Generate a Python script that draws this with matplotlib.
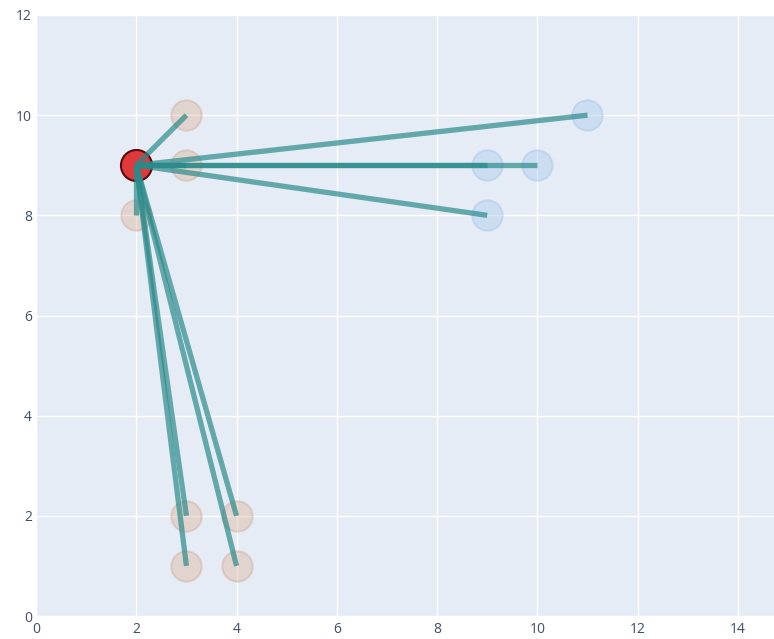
import matplotlib
matplotlib.use("Agg")
import matplotlib.pyplot as plt

# Data
center = (2, 9)
near_x = [3, 3, 2, 3, 4, 3, 4]
near_y = [10, 9, 8, 2, 2, 1, 1]
far_x = [9, 10, 11, 9]
far_y = [9, 9, 10, 8]
target_x = [3, 3, 2, 9, 10, 11, 9, 3, 4, 3, 4]
target_y = [10, 9, 8, 9, 9, 10, 8, 2, 2, 1, 1]
xticks = [0, 2, 4, 6, 8, 10, 12, 14]
yticks = [0, 2, 4, 6, 8, 10, 12]

plt.rcParams['font.family'] = ['Open Sans', 'DejaVu Sans']
fig = plt.figure(figsize=(7.74, 6.39), dpi=100)
ax = fig.add_axes([36/774, 23/639, 1 - 36/774, (616-15)/639])
ax.set_facecolor('#E5ECF6')

ax.scatter(near_x, near_y, s=480, color=(0.87, 0.72, 0.63, 0.45),
           edgecolor=(0.80, 0.62, 0.52, 0.35), linewidth=1.5, zorder=2)
ax.scatter(far_x, far_y, s=480, color=(0.70, 0.82, 0.93, 0.5),
           edgecolor=(0.62, 0.76, 0.90, 0.4), linewidth=1.5, zorder=2)
ax.scatter([center[0]], [center[1]], s=500, color='#E0383B',
           edgecolor='#5a0a0a', linewidth=1.5, zorder=3)
for tx, ty in zip(target_x, target_y):
    ax.plot([center[0], tx], [center[1], ty], color='#2A8A8A', alpha=0.7,
            linewidth=3.8, solid_capstyle='butt', zorder=4)

ax.set_xlim(0, 14.72)
ax.set_ylim(0, 12)
ax.set_xticks(xticks)
ax.set_yticks(yticks)
ax.grid(True, color='white', linewidth=1.0)
ax.set_axisbelow(True)
for s in ax.spines.values():
    s.set_visible(False)
ax.tick_params(length=0, labelsize=10, labelcolor='#3f4f66')
ax.tick_params(axis='y', pad=3)
ax.tick_params(axis='x', pad=4)

fig.savefig('out.png', dpi=100)
